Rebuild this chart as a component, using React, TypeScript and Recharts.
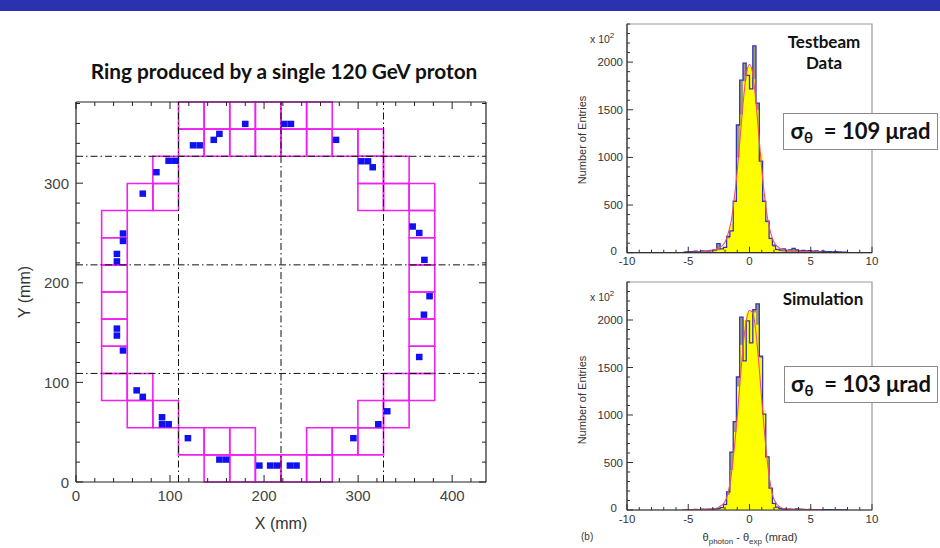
import React from 'react';
import {
  ScatterChart, Scatter, XAxis, YAxis, ReferenceArea, ReferenceLine,
  ComposedChart, Area, Line,
} from 'recharts';

// ---------------- Left panel data (mm) ----------------
const PMT_SIZE = 27.25;
const boxCorners: [number, number][] = [
  [109, 354.25], [136.25, 354.25], [163.5, 354.25], [190.75, 354.25], [218, 354.25], [245.25, 354.25],
  [109, 327], [136.25, 327], [163.5, 327], [190.75, 327], [218, 327], [245.25, 327], [272.5, 327], [299.75, 327],
  [81.75, 299.75], [299.75, 299.75], [327, 299.75],
  [54.5, 272.5], [81.75, 272.5], [299.75, 272.5], [327, 272.5], [354.25, 272.5],
  [27.25, 245.25], [354.25, 245.25],
  [27.25, 218], [354.25, 218],
  [27.25, 190.75], [354.25, 190.75],
  [27.25, 163.5], [354.25, 163.5],
  [27.25, 136.25], [354.25, 136.25],
  [27.25, 109], [354.25, 109],
  [27.25, 81.75], [54.5, 81.75], [327, 81.75], [354.25, 81.75],
  [54.5, 54.5], [81.75, 54.5], [299.75, 54.5], [327, 54.5],
  [109, 27.25], [136.25, 27.25], [163.5, 27.25], [245.25, 27.25], [272.5, 27.25], [299.75, 27.25],
  [136.25, 0], [163.5, 0], [190.75, 0], [218, 0], [245.25, 0],
];
const hitX = [124.5, 131.5, 146.5, 152.5, 180, 221.5, 228.5, 276.5, 303.5, 310.5, 315.5, 98.5, 105.5, 85.5, 71,
  50, 50, 43.5, 43.5, 358, 365, 370.5, 376, 370, 365, 331, 321.5, 295, 227.5, 234.5, 206.5, 213.5, 195,
  152.5, 159.5, 119, 91.5, 91.5, 98.5, 64.5, 71, 50, 43.5, 43.5];
const hitY = [338, 338, 343.5, 349.5, 359.5, 359.5, 359.5, 343.5, 322, 322, 316, 322.5, 322.5, 311, 289.5,
  249.5, 242, 229, 221.5, 256.5, 250, 223, 186.5, 168, 125.5, 71, 58, 44, 16.5, 16.5, 16.5, 16.5, 16.5,
  22.5, 22.5, 44, 65, 58, 58, 92, 85.5, 132, 154, 147];
const sectorLines = [109, 218, 327];
const ringXTicks = [0, 20, 40, 60, 80, 100, 120, 140, 160, 180, 200, 220, 240, 260, 280, 300, 320, 340, 360, 380, 400, 420];
const ringYTicks = [0, 20, 40, 60, 80, 100, 120, 140, 160, 180, 200, 220, 240, 260, 280, 300, 320, 340, 360, 380];

const hits = hitX.map((x, i) => ({ x, y: hitY[i] }));

// ---------------- Histogram data ----------------
const binEdges = [-5.33, -5.07, -4.8, -4.53, -4.27, -4, -3.73, -3.47, -3.2, -2.93, -2.67, -2.4, -2.13, -1.87, -1.6,
  -1.33, -1.07, -0.8, -0.53, -0.27, 0, 0.27, 0.53, 0.8, 1.07, 1.33, 1.6, 1.87, 2.13, 2.4, 2.67, 2.93, 3.2, 3.47,
  3.73, 4, 4.27, 4.53, 4.8, 5.07, 5.33, 5.6, 5.87, 6.13, 6.4, 6.67, 6.93, 7.2, 7.47, 7.73, 8];
const testbeamCounts = [8, 12, 10, 15, 12, 18, 15, 20, 25, 30, 95, 40, 55, 170, 230, 540, 1340, 1810, 1990, 1860,
  1720, 2170, 1570, 960, 540, 330, 150, 80, 35, 30, 40, 25, 30, 45, 30, 20, 25, 18, 22, 15, 20, 12, 15, 10, 12, 8, 10, 8, 6, 5];
const testbeamSmooth = [0, 0, 0, 0, 0, 0, 0, 5, 10, 15, 25, 40, 70, 150, 300, 580, 1000, 1450, 1800, 1950,
  1950, 1820, 1500, 1050, 620, 320, 140, 60, 25, 15, 10, 8, 5, 0, 0, 0, 0, 0, 0, 0, 0, 0, 0, 0, 0, 0, 0, 0, 0, 0];
const simCounts = [3, 5, 4, 6, 5, 8, 6, 10, 8, 12, 15, 25, 60, 190, 610, 930, 1400, 2030, 1570, 1990,
  1760, 2110, 2170, 1620, 1010, 560, 230, 70, 30, 15, 12, 8, 10, 6, 12, 8, 6, 5, 6, 4, 5, 3, 4, 3, 3, 2, 2, 2, 1, 1];
const simSmooth = [0, 0, 0, 0, 0, 0, 0, 0, 0, 5, 10, 20, 50, 160, 420, 820, 1300, 1740, 2000, 2080,
  2090, 2080, 1950, 1600, 1050, 560, 230, 70, 20, 8, 0, 0, 0, 0, 0, 0, 0, 0, 0, 0, 0, 0, 0, 0, 0, 0, 0, 0, 0, 0];
const fitX = [-5.5, -4, -3, -2.5, -2, -1.75, -1.5, -1.25, -1, -0.75, -0.5, -0.25, 0, 0.25, 0.5, 0.75, 1, 1.25, 1.5, 1.75, 2, 2.5, 3, 4, 5, 6];
const testbeamFit = [5, 10, 25, 50, 110, 200, 330, 560, 860, 1230, 1600, 1880, 1975, 1890, 1620, 1250, 880, 570, 340, 200, 110, 45, 25, 15, 10, 6];
const simFit = [2, 4, 10, 30, 90, 180, 360, 640, 980, 1380, 1750, 2000, 2100, 2080, 1900, 1560, 1160, 780, 460, 240, 110, 30, 10, 4, 2, 1];
const histXTicks = [-10, -9, -8, -7, -6, -5, -4, -3, -2, -1, 0, 1, 2, 3, 4, 5, 6, 7, 8, 9, 10];
const histYTicks = [0, 100, 200, 300, 400, 500, 600, 700, 800, 900, 1000, 1100, 1200, 1300, 1400, 1500, 1600, 1700,
  1800, 1900, 2000, 2100, 2200, 2300, 2400];

const buildHist = (counts: number[], smooth: number[]) =>
  binEdges.map((x, i) => ({ x, data: i < counts.length ? counts[i] : 0, smooth: i < smooth.length ? smooth[i] : 0 }));
const buildFit = (ys: number[]) => fitX.map((x, i) => ({ x, y: ys[i] }));

const HELV = '"Liberation Sans", Arial, Helvetica, sans-serif';
const TITLEF = 'Lato, "Open Sans", "Noto Sans", sans-serif';

// ---------------- Tick renderers ----------------
const ringBottomTick = (p: any) => {
  const v = p.payload.value;
  const major = v % 100 === 0;
  return (
    <g>
      <line x1={p.x} x2={p.x} y1={p.y} y2={p.y - (major ? 7 : 4)} stroke="#222" strokeWidth={1} />
      {major && <text x={p.x} y={p.y + 18.5} textAnchor="middle" fontSize={15} fill="#444" fontFamily={HELV}>{v}</text>}
    </g>
  );
};
const ringTopTick = (p: any) => {
  const v = p.payload.value;
  const major = v % 100 === 0;
  return <line x1={p.x} x2={p.x} y1={p.y} y2={p.y + (major ? 7 : 4)} stroke="#222" strokeWidth={1} />;
};
const ringLeftTick = (p: any) => {
  const v = p.payload.value;
  const major = v % 100 === 0;
  return (
    <g>
      <line x1={p.x} x2={p.x + (major ? 7 : 4)} y1={p.y} y2={p.y} stroke="#222" strokeWidth={1} />
      {major && <text x={p.x - 7} y={p.y + 5.5} textAnchor="end" fontSize={15} fill="#444" fontFamily={HELV}>{v}</text>}
    </g>
  );
};
const ringRightTick = (p: any) => {
  const v = p.payload.value;
  const major = v % 100 === 0;
  return <line x1={p.x} x2={p.x - (major ? 7 : 4)} y1={p.y} y2={p.y} stroke="#222" strokeWidth={1} />;
};

const makeHistBottomTick = (labelDy: number) => (p: any) => {
  const v = p.payload.value;
  const major = v % 5 === 0;
  return (
    <g>
      <line x1={p.x} x2={p.x} y1={p.y} y2={p.y - (major ? 6 : 3)} stroke="#333" strokeWidth={1} />
      {major && <text x={p.x} y={p.y + labelDy} textAnchor="middle" fontSize={11.5} fill="#333" fontFamily={HELV}>{v}</text>}
    </g>
  );
};
const histLeftTick = (p: any) => {
  const v = p.payload.value;
  const major = v % 500 === 0;
  const isZero = v === 0;
  return (
    <g>
      <line x1={p.x} x2={p.x + (major ? 6 : 3)} y1={p.y} y2={p.y} stroke="#333" strokeWidth={1} />
      {major && v <= 2000 && (
        <text x={p.x - (isZero ? 10 : 4)} y={p.y + (isZero ? 2 : 4)} textAnchor="end" fontSize={11.5} fill="#333" fontFamily={HELV}>{v}</text>
      )}
    </g>
  );
};

const HitSquare = (p: any) => (
  <rect x={p.cx - 3.3} y={p.cy - 3.2} width={6.6} height={6.4} fill="#1010F0" />
);

// ---------------- Components ----------------
const RingChart = () => (
  <ScatterChart width={520} height={548} margin={{ top: 101, left: 75, right: 33, bottom: 65 }}>
    <XAxis xAxisId="b" dataKey="x" type="number" domain={[0, 436]} ticks={ringXTicks} interval={0}
      height={1} tickSize={0} tickMargin={0} tick={ringBottomTick} axisLine={{ stroke: '#222', strokeWidth: 1.2 }} allowDataOverflow />
    <XAxis xAxisId="t" orientation="top" dataKey="x" type="number" domain={[0, 436]} ticks={ringXTicks} interval={0}
      height={1} tickSize={0} tickMargin={0} tick={ringTopTick} axisLine={{ stroke: '#222', strokeWidth: 1.2 }} allowDataOverflow />
    <YAxis yAxisId="l" dataKey="y" type="number" domain={[0, 381.5]} ticks={ringYTicks} interval={0}
      width={1} tickSize={0} tickMargin={0} tick={ringLeftTick} axisLine={{ stroke: '#222', strokeWidth: 1.2 }} allowDataOverflow />
    <YAxis yAxisId="r" orientation="right" dataKey="y" type="number" domain={[0, 381.5]} ticks={ringYTicks} interval={0}
      width={1} tickSize={0} tickMargin={0} tick={ringRightTick} axisLine={{ stroke: '#222', strokeWidth: 1.2 }} allowDataOverflow />
    {boxCorners.map(([bx, by], i) => (
      <ReferenceArea key={'b' + i} xAxisId="b" yAxisId="l" x1={bx} x2={bx + PMT_SIZE} y1={by} y2={by + PMT_SIZE}
        fill="none" fillOpacity={0} stroke="#F020F0" strokeWidth={1.6} strokeOpacity={1} ifOverflow="visible" />
    ))}
    {sectorLines.map((v) => (
      <ReferenceLine key={'vx' + v} xAxisId="b" yAxisId="l" x={v} stroke="#111" strokeWidth={1} strokeDasharray="7 3 1.5 3" />
    ))}
    {sectorLines.map((v) => (
      <ReferenceLine key={'hy' + v} xAxisId="b" yAxisId="l" y={v} stroke="#111" strokeWidth={1} strokeDasharray="7 3 1.5 3" />
    ))}
    <Scatter xAxisId="b" yAxisId="l" data={hits} shape={HitSquare} isAnimationActive={false} />
  </ScatterChart>
);

const Histogram = ({ counts, smooth, fit, height, top, bottom, labelDy }: any) => {
  const data = buildHist(counts, smooth);
  return (
    <ComposedChart width={380} height={height} data={data} margin={{ top, left: 66, right: 68, bottom }}>
      <ReferenceArea x1={-10} x2={10} y1={0} y2={2400} fill="none" fillOpacity={0} stroke="#9a9a9a" strokeWidth={1.2} ifOverflow="visible" />
      <XAxis dataKey="x" type="number" domain={[-10, 10]} ticks={histXTicks} interval={0} height={1}
        tickSize={0} tickMargin={0} tick={makeHistBottomTick(labelDy)} axisLine={{ stroke: '#333', strokeWidth: 1.2 }} allowDataOverflow />
      <YAxis type="number" domain={[0, 2400]} ticks={histYTicks} interval={0} width={1}
        tickSize={0} tickMargin={0} tick={histLeftTick} axisLine={{ stroke: '#333', strokeWidth: 1.2 }} allowDataOverflow />
      <Area dataKey="data" type="stepAfter" fill="#9d9c78" fillOpacity={1} stroke="none" isAnimationActive={false} />
      <Area dataKey="smooth" type="stepAfter" fill="#FFFF00" fillOpacity={1} stroke="none" isAnimationActive={false} />
      <Line dataKey="data" type="stepAfter" stroke="#3535B0" strokeWidth={1.3} dot={false} isAnimationActive={false} />
      <Line data={fit} dataKey="y" type="monotone" stroke="#F2506A" strokeWidth={1.1} dot={false} isAnimationActive={false} />
    </ComposedChart>
  );
};

const sigmaBox = (value: string, top: number, left: number, width: number) => (
  <div style={{
    position: 'absolute', left, top, width, height: 37, boxSizing: 'border-box', border: '1.5px solid #8a8a8a',
    background: '#fff', fontFamily: TITLEF, fontWeight: 700, fontSize: 22, color: '#111',
    display: 'flex', alignItems: 'center', justifyContent: 'center', whiteSpace: 'nowrap',
  }}>
    <span>σ<sub style={{ fontSize: 15, verticalAlign: -4 }}>θ</sub>&nbsp; = {value} μrad</span>
  </div>
);

export default function App() {
  return (
    <div style={{ position: 'absolute', left: 0, top: 0, width: 940, height: 548, background: '#fff', overflow: 'hidden', fontFamily: HELV }}>
      <div style={{ position: 'absolute', left: 0, top: 0, width: 940, height: 10.5, background: '#2B32B0' }} />
      <div style={{ position: 'absolute', left: 0, top: 60, width: 568, textAlign: 'center', fontFamily: TITLEF, fontWeight: 700, fontSize: 20.8, lineHeight: '22px', color: '#111', whiteSpace: 'nowrap' }}>
        Ring produced by a single 120 GeV proton
      </div>
      <div style={{ position: 'absolute', left: 0, top: 0 }}>
        <RingChart />
      </div>
      <div style={{ position: 'absolute', left: 231, top: 515, width: 100, textAlign: 'center', fontSize: 16, lineHeight: '18px', color: '#333' }}>X (mm)</div>
      <div style={{ position: 'absolute', left: -25, top: 283, width: 100, height: 18, textAlign: 'center', fontSize: 16, lineHeight: '18px', color: '#333', transform: 'rotate(-90deg)' }}>Y (mm)</div>

      <div style={{ position: 'absolute', left: 560, top: 0 }}>
        <Histogram counts={testbeamCounts} smooth={testbeamSmooth} fit={buildFit(testbeamFit)} height={270} top={24} bottom={16.3} labelDy={12.5} />
      </div>
      <div style={{ position: 'absolute', left: 560, top: 270 }}>
        <Histogram counts={simCounts} smooth={simSmooth} fit={buildFit(simFit)} height={278} top={12} bottom={37} labelDy={13} />
      </div>

      <div style={{ position: 'absolute', left: 590, top: 31, fontSize: 10.5, color: '#333', whiteSpace: 'nowrap' }}>x 10<sup style={{ fontSize: 8 }}>2</sup></div>
      <div style={{ position: 'absolute', left: 590, top: 289, fontSize: 10.5, color: '#333', whiteSpace: 'nowrap' }}>x 10<sup style={{ fontSize: 8 }}>2</sup></div>
      <div style={{ position: 'absolute', left: 532, top: 133, width: 100, height: 14, textAlign: 'center', fontSize: 11, lineHeight: '14px', color: '#333', transform: 'rotate(-90deg)' }}>Number of Entries</div>
      <div style={{ position: 'absolute', left: 532, top: 393, width: 100, height: 14, textAlign: 'center', fontSize: 11, lineHeight: '14px', color: '#333', transform: 'rotate(-90deg)' }}>Number of Entries</div>
      <div style={{ position: 'absolute', left: 680, top: 530, width: 140, textAlign: 'center', fontSize: 11, lineHeight: '14px', color: '#333', whiteSpace: 'nowrap' }}>
        θ<sub style={{ fontSize: 8 }}>photon</sub> - θ<sub style={{ fontSize: 8 }}>exp</sub> (mrad)
      </div>
      <div style={{ position: 'absolute', left: 581, top: 531, fontSize: 10, lineHeight: '12px', color: '#333' }}>(b)</div>

      <div style={{ position: 'absolute', left: 774, top: 32, width: 100, textAlign: 'center', fontFamily: TITLEF, fontWeight: 700, fontSize: 17, lineHeight: '20.6px', color: '#111' }}>
        Testbeam<br />Data
      </div>
      <div style={{ position: 'absolute', left: 773, top: 289, width: 100, textAlign: 'center', fontFamily: TITLEF, fontWeight: 700, fontSize: 17, lineHeight: '20px', color: '#111' }}>
        Simulation
      </div>
      {sigmaBox('109', 112.5, 783, 155)}
      {sigmaBox('103', 366, 784, 154)}
    </div>
  );
}
